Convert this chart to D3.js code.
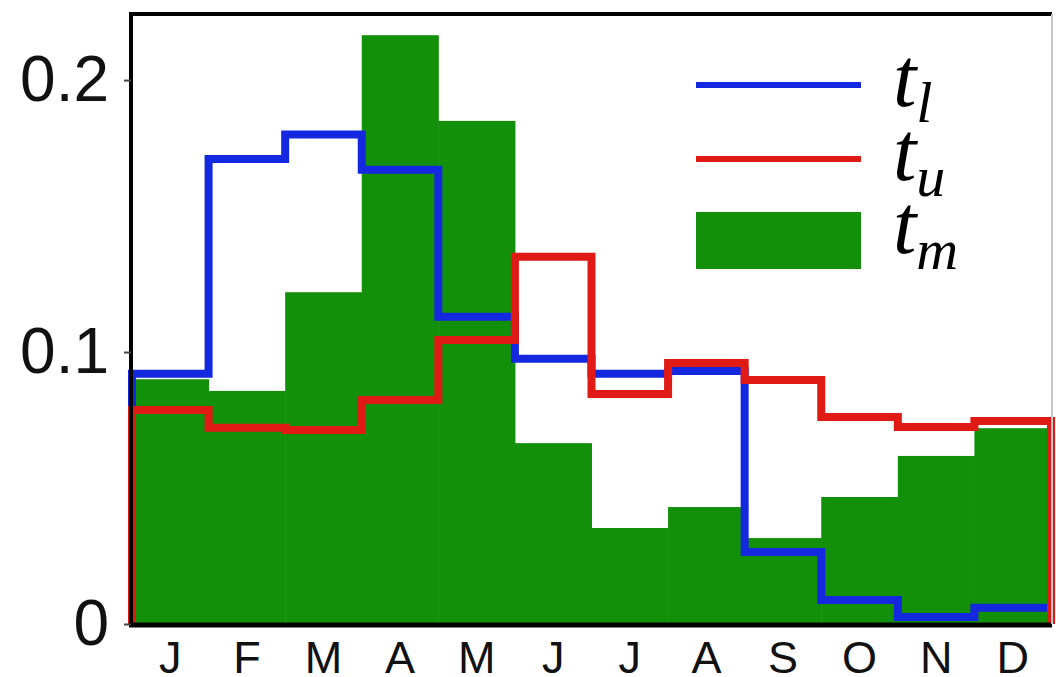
<!DOCTYPE html>
<html>
<head>
<meta charset="utf-8">
<script src="https://cdn.jsdelivr.net/npm/d3@7"></script>
<style>
  html, body { margin: 0; padding: 0; background: #fff; }
  svg { display: block; }
</style>
</head>
<body>
<svg id="chart" width="1056" height="677"></svg>
<script>
// Monthly fractions for the three quantities
const months = ["J", "F", "M", "A", "M", "J", "J", "A", "S", "O", "N", "D"];
const tLower = [0.092, 0.171, 0.180, 0.167, 0.113, 0.0975, 0.092, 0.093, 0.0265, 0.0088, 0.0026, 0.006];
const tUpper = [0.0787, 0.0722, 0.0713, 0.0824, 0.1044, 0.135, 0.0846, 0.096, 0.0897, 0.0761, 0.0724, 0.0746];
const tMid   = [0.090, 0.0857, 0.122, 0.2165, 0.185, 0.0665, 0.0353, 0.043, 0.0316, 0.0467, 0.0618, 0.072];
const yTicks = [0, 0.1, 0.2];
const yTickLabels = ["0", "0.1", "0.2"];

const colors = { lower: "#1428e0", upper: "#e01a14", mid: "#12900a" };

const svg = d3.select("#chart");
const plotLeft = 132, plotRight = 1051, plotTop = 14, plotBottom = 624;

const x = d3.scaleBand().domain(d3.range(months.length)).range([plotLeft, plotRight]).padding(0);
const y = d3.scaleLinear().domain([0, 0.2243]).range([plotBottom, plotTop]);

// Filled histogram
svg.append("g").selectAll("rect")
  .data(tMid)
  .join("rect")
  .attr("x", (d, i) => x(i))
  .attr("width", x.bandwidth() + 0.5)
  .attr("y", d => y(d))
  .attr("height", d => y(0) - y(d))
  .attr("fill", colors.mid);

// Step outline of a histogram, closed down to zero at both ends
function stepPath(vals) {
  const pts = [[x(0), y(0)]];
  vals.forEach((v, i) => {
    pts.push([x(i), y(v)]);
    pts.push([x(i) + x.bandwidth(), y(v)]);
  });
  pts.push([x(vals.length - 1) + x.bandwidth(), y(0)]);
  return d3.line()(pts);
}

svg.append("path").attr("d", stepPath(tLower))
  .attr("fill", "none").attr("stroke", colors.lower)
  .attr("stroke-width", 8).attr("stroke-linejoin", "miter");
svg.append("path").attr("d", stepPath(tUpper))
  .attr("fill", "none").attr("stroke", colors.upper)
  .attr("stroke-width", 8).attr("stroke-linejoin", "miter");

// Frame
svg.append("line").attr("x1", plotLeft - 1).attr("x2", plotRight + 1).attr("y1", plotTop).attr("y2", plotTop)
  .attr("stroke", "#000").attr("stroke-width", 4);
svg.append("line").attr("x1", plotLeft - 1).attr("x2", plotLeft - 1).attr("y1", plotTop - 2).attr("y2", plotBottom + 2)
  .attr("stroke", "#000").attr("stroke-width", 4);
svg.append("line").attr("x1", plotLeft - 3).attr("x2", plotRight + 1).attr("y1", plotBottom + 1).attr("y2", plotBottom + 1)
  .attr("stroke", "#000").attr("stroke-width", 5);
svg.append("line").attr("x1", plotRight + 1).attr("x2", plotRight + 1).attr("y1", plotTop).attr("y2", plotBottom)
  .attr("stroke", "#c8c8c8").attr("stroke-width", 2);

// Axes
const yAxis = d3.axisLeft(y).tickValues(yTicks)
  .tickFormat((d, i) => yTickLabels[i]).tickSize(7).tickPadding(15);
const gy = svg.append("g").attr("transform", `translate(${plotLeft - 1},0)`).call(yAxis);
gy.select(".domain").remove();
gy.selectAll(".tick line").attr("stroke", "#444").attr("stroke-width", 2);
gy.selectAll(".tick text")
  .attr("font-family", "'Liberation Sans', Arial, sans-serif")
  .attr("font-size", 64).attr("fill", "#111");

const xAxis = d3.axisBottom(x).tickFormat(i => months[i]).tickSize(0).tickPadding(17);
const gx = svg.append("g").attr("transform", `translate(0,${plotBottom})`).call(xAxis);
gx.select(".domain").remove();
gx.selectAll(".tick text")
  .attr("font-family", "'Liberation Sans', Arial, sans-serif")
  .attr("font-size", 45).attr("fill", "#111");

// Legend
const legend = svg.append("g");
const lx0 = 696, lx1 = 861, tx = 893;
const entries = [
  { sub: "l", kind: "line", color: colors.lower, yMark: 85, base: 106 },
  { sub: "u", kind: "line", color: colors.upper, yMark: 159, base: 180 },
  { sub: "m", kind: "rect", color: colors.mid, yMark: 241, base: 253 }
];
entries.forEach(e => {
  if (e.kind === "line") {
    legend.append("line").attr("x1", lx0).attr("x2", lx1).attr("y1", e.yMark).attr("y2", e.yMark)
      .attr("stroke", e.color).attr("stroke-width", 6);
  } else {
    legend.append("rect").attr("x", lx0).attr("y", 212).attr("width", lx1 - lx0).attr("height", 57)
      .attr("fill", e.color);
  }
  const t = legend.append("text").attr("x", tx).attr("y", e.base)
    .attr("font-family", "'Liberation Serif', 'DejaVu Serif', serif")
    .attr("font-style", "italic").attr("font-size", 84).attr("fill", "#000");
  t.append("tspan").text("t");
  t.append("tspan").attr("dy", 16).attr("font-size", 58).text(e.sub);
});
</script>
</body>
</html>
